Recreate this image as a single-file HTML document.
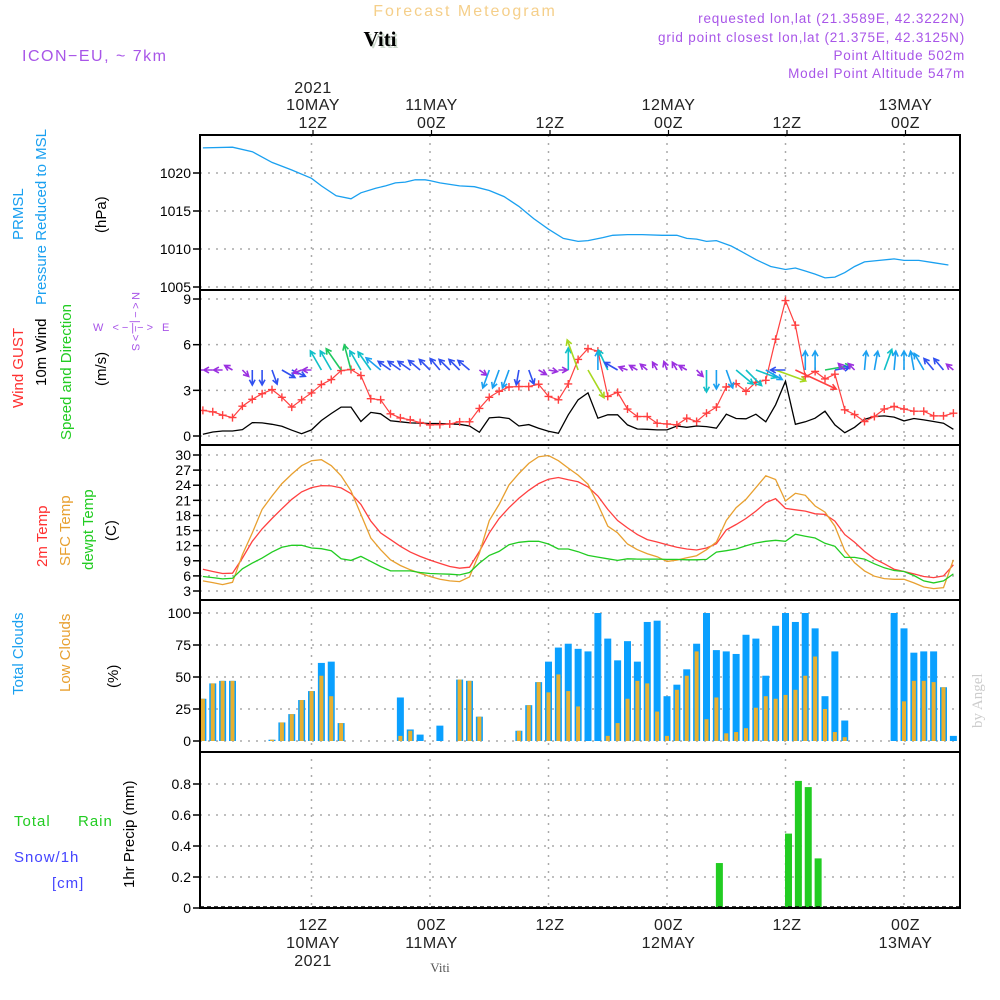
<!DOCTYPE html>
<html><head><meta charset="utf-8">
<style>
html,body{margin:0;padding:0;background:#fff;}
svg{display:block;}
text{font-family:"Liberation Sans",sans-serif;}
</style></head>
<body>
<svg id="chart" width="1000" height="1000" viewBox="0 0 1000 1000" xmlns="http://www.w3.org/2000/svg">
<rect width="1000" height="1000" fill="#fff"/>
<text x="465" y="16" text-anchor="middle" font-size="16" fill="#f5cf8a" letter-spacing="2">Forecast Meteogram</text>
<text x="382" y="48" text-anchor="middle" font-size="21" font-weight="bold" style="font-family:'Liberation Serif',serif" fill="#ccd8cc">Viti</text>
<text x="380" y="46" text-anchor="middle" font-size="21" font-weight="bold" style="font-family:'Liberation Serif',serif" fill="#000">Viti</text>
<text x="22" y="61" font-size="16" fill="#a855e8" letter-spacing="1.5">ICON−EU, ~ 7km</text>
<g font-size="13.5" fill="#a855e8" text-anchor="end" letter-spacing="0.8">
<text x="965" y="23">requested lon,lat (21.3589E, 42.3222N)</text>
<text x="965" y="42">grid point closest lon,lat (21.375E, 42.3125N)</text>
<text x="965" y="60">Point Altitude 502m</text>
<text x="965" y="78">Model Point Altitude 547m</text>
</g>
<g id="top-axis" font-size="16" fill="#222" text-anchor="middle" letter-spacing="0.5"></g>
<g id="bottom-axis" font-size="16" fill="#222" text-anchor="middle" letter-spacing="0.5"></g>
<text x="440" y="972" text-anchor="middle" font-size="13" style="font-family:'Liberation Serif',serif" fill="#555">Viti</text>
<text transform="translate(982,728) rotate(-90)" font-size="15" style="font-family:'Liberation Serif',serif" fill="#ccc">by Angel</text>

<g font-size="15">
<text transform="translate(23,240) rotate(-90)" fill="#1aa0f0">PRMSL</text>
<text transform="translate(46,305) rotate(-90)" fill="#1aa0f0">Pressure Reduced to MSL</text>
<text transform="translate(106,233) rotate(-90)" fill="#000">(hPa)</text>
</g>
<g font-size="15">
<text transform="translate(23,408) rotate(-90)" fill="#ff3030">Wind GUST</text>
<text transform="translate(46,386) rotate(-90)" fill="#000">10m Wind</text>
<text transform="translate(71,440) rotate(-90)" fill="#22cc22">Speed and Direction</text>
<text transform="translate(106,386) rotate(-90)" fill="#000">(m/s)</text>
<text x="93" y="331" font-size="11" fill="#a855e8" letter-spacing="3">W &lt;−|−&gt; E</text>
<text transform="translate(132,292) rotate(90)" font-size="11" fill="#a855e8" letter-spacing="2.5">N&lt;−|−&gt;S</text>
</g>
<g font-size="15">
<text transform="translate(47,567) rotate(-90)" fill="#ff3030">2m Temp</text>
<text transform="translate(70,566) rotate(-90)" fill="#e8a030">SFC Temp</text>
<text transform="translate(93,570) rotate(-90)" fill="#22cc22">dewpt Temp</text>
<text transform="translate(116,541) rotate(-90)" fill="#000">(C)</text>
</g>
<g font-size="15">
<text transform="translate(23,695) rotate(-90)" fill="#1aa0f0">Total Clouds</text>
<text transform="translate(70,692) rotate(-90)" fill="#e8a030">Low Clouds</text>
<text transform="translate(118,688) rotate(-90)" fill="#000">(%)</text>
</g>
<g font-size="15" letter-spacing="1">
<text x="14" y="826" fill="#22cc22">Total</text>
<text x="78" y="826" fill="#22cc22">Rain</text>
<text x="14" y="862" fill="#4444ff">Snow/1h</text>
<text x="52" y="888" fill="#4444ff">[cm]</text>
<text transform="translate(134,888) rotate(-90)" fill="#000" letter-spacing="0">1hr Precip (mm)</text>
</g>
<defs><clipPath id="plotclip"><rect x="200" y="135" width="760" height="773"/></clipPath></defs>
<g id="plot" clip-path="url(#plotclip)"></g>
<g id="frame"></g>
</svg>
<script>
const tickHours = [12,24,36,48,60,72];
const topLine1 = ["2021","","","","",""];
const topLine2 = ["10MAY","11MAY","","12MAY","","13MAY"];
const topLine3 = ["12Z","00Z","12Z","00Z","12Z","00Z"];
const botLine1 = ["12Z","00Z","12Z","00Z","12Z","00Z"];
const botLine2 = ["10MAY","11MAY","","12MAY","","13MAY"];
const botLine3 = ["2021","","","","",""];

const pressHours = [1,4,6,8,10,12,13,14.5,16,17,18.5,19.5,20.5,21.5,22.5,23.5,24,25,27,28.5,30,31.5,33,34.5,36,37.5,39,40,41.5,42.5,44,45.5,47.5,49,50,51,52,53,54.5,55.5,57,58.5,60,61,62,63,64,65,66,67,68,69.5,71,72,73.5,75,76.5];
const pressVals = [1023.3,1023.4,1022.8,1021.4,1020.4,1019.3,1018.3,1017.0,1016.6,1017.4,1018.0,1018.3,1018.7,1018.8,1019.1,1019.1,1019.0,1018.7,1018.3,1018.2,1017.7,1016.9,1015.6,1014.0,1012.6,1011.4,1011.0,1011.1,1011.5,1011.8,1011.9,1011.9,1011.8,1011.8,1011.4,1011.3,1011.0,1011.1,1010.4,1009.7,1008.6,1007.7,1007.3,1007.5,1007.1,1006.7,1006.2,1006.3,1006.9,1007.7,1008.3,1008.5,1008.7,1008.5,1008.5,1008.2,1007.9];

const gustVals = [1.68,1.59,1.37,1.21,1.96,2.41,2.78,3.05,2.54,1.90,2.38,2.83,3.38,3.71,4.30,4.37,3.97,2.45,2.38,1.46,1.19,1.06,0.88,0.73,0.75,0.79,0.93,0.93,1.81,2.54,2.94,3.22,3.25,3.25,3.40,2.60,2.38,3.42,5.03,5.74,5.58,2.60,2.87,1.77,1.28,1.28,0.84,0.79,0.73,1.17,0.95,1.50,1.90,3.22,3.44,2.94,3.53,3.66,6.36,8.90,7.28,3.89,4.24,3.75,4.06,1.72,1.41,0.95,1.28,1.77,1.94,1.77,1.63,1.63,1.32,1.32,1.50];
const windVals = [0.11,0.26,0.33,0.33,0.42,0.88,0.86,0.77,0.64,0.38,0.15,0.40,1.02,1.48,1.90,1.90,0.95,1.55,1.46,1.00,0.93,0.86,0.84,0.82,0.82,0.79,0.77,0.66,0.24,1.19,1.24,1.15,0.66,0.75,0.51,0.31,0.18,1.39,2.38,2.83,1.17,1.39,1.39,0.73,0.46,0.44,0.40,0.40,0.66,0.57,0.66,0.62,0.51,1.43,1.15,1.13,1.43,0.93,2.05,3.60,0.77,0.93,1.17,1.63,0.73,0.22,0.57,1.10,1.28,1.32,1.24,0.99,1.15,1.06,0.95,0.84,0.44];
const windDir = [270,270,270,300,135,180,180,160,120,115,250,270,330,330,325,345,330,325,310,305,305,305,310,315,320,315,315,310,125,200,200,200,190,160,120,100,90,0,340,150,0,335,300,290,300,310,330,340,330,300,135,180,180,160,130,135,110,120,110,270,115,0,0,80,80,315,315,5,10,20,5,0,350,330,320,320,310];
const windCat = [0,0,0,0,0,1,1,1,1,1,0,0,3,3,4,4,3,3,2,1,1,1,1,1,1,1,1,1,0,2,2,2,1,1,0,0,0,3,5,5,2,3,1,0,0,0,0,0,0,0,0,3,2,2,3,3,3,2,5,1,6,2,2,4,1,0,0,2,2,3,2,2,2,2,1,1,0];

const t2mVals = [7.33,6.87,6.47,6.53,9.53,12.87,15.33,17.4,19.33,21.2,22.67,23.53,23.93,23.87,23.47,22.33,20.2,16.87,14.53,13.2,11.87,10.73,9.87,9.13,8.47,7.87,7.53,7.73,10.87,14.53,17.4,19.53,21.4,23.0,24.33,25.2,25.53,25.07,24.67,23.67,21.87,19.2,17.0,15.53,14.2,13.2,12.73,12.2,11.67,11.33,11.13,11.53,12.4,15.13,16.2,17.4,18.87,20.53,21.33,19.4,19.13,18.87,18.33,18.2,16.87,14.2,12.67,10.87,9.4,8.4,7.33,6.87,6.4,5.87,5.67,6.0,8.2];
const sfcVals = [5.0,4.67,4.27,4.73,10.2,14.53,19.2,21.87,24.33,26.2,27.87,28.87,29.07,27.87,25.87,22.87,18.2,13.53,11.2,9.2,8.07,7.2,6.53,5.87,5.33,5.0,4.87,5.8,10.53,17.0,20.2,24.07,26.33,28.33,29.67,29.9,28.87,27.4,26.0,24.2,20.2,15.87,14.53,12.33,11.2,10.4,9.8,8.87,9.13,9.6,10.0,11.2,12.73,17.0,19.53,21.2,23.53,25.87,25.13,20.87,22.4,22.0,19.87,18.67,15.87,11.0,8.6,7.0,5.93,5.47,5.33,5.33,4.6,3.8,3.47,3.67,9.2];
const dewVals = [5.87,5.67,5.4,5.53,7.4,8.53,9.53,10.73,11.67,12.07,12.07,11.53,11.4,11.0,9.4,9.07,9.87,8.87,7.87,7.0,7.0,7.0,6.67,6.47,6.4,6.33,6.2,6.67,8.53,10.07,10.87,12.2,12.67,12.87,12.87,12.33,11.33,11.33,10.8,10.07,9.73,9.4,9.07,9.4,9.33,9.33,9.33,9.27,9.27,9.2,9.2,9.27,10.73,11.0,11.33,12.0,12.53,12.87,13.07,12.87,14.27,13.87,13.53,12.47,11.87,9.67,9.67,9.33,8.4,7.6,7.07,6.87,6.07,5.0,4.6,5.0,6.4];

const totalCloud = [33,45,47,47,0,0,0,1,14.5,21,32,39,61,62,14,0,0,0,0,0,34,9,5,0,12,0,48,47,19,0,0,0,8,28,46,62,73,76,72,70,100,80,63,78,62,93,94,35,44,56,76,100,71,70,68,83,80,51,90,100,93,100,88,35,70,16,0,0,0,0,100,88,69,70,70,42,4];
const lowCloud = [33,45,47,47,0,0,0,1,14.5,21,32,39,51,35,14,0,0,0,0,0,4,8,0,0,0,0,48,47,19,0,0,0,8,28,46,38,52,39,27,0,0,4,14,33,47,45,23,4,40,51,70,17,34,6,7,10,26,35,33,36,40,51,66,25,7,3,0,0,0,0,0,31,47,47,46,42,0];

const precipHours = [53,60,61,62,63];
const precipVals = [0.29,0.48,0.82,0.78,0.32];

const pressTicks = [1005,1010,1015,1020];
const windTicks = [0,3,6,9];
const tempTicks = [3,6,9,12,15,18,21,24,27,30];
const cloudTicks = [0,25,50,75,100];
const precipTicks = [0,0.2,0.4,0.6,0.8];
const precipTickLabels = ["0","0.2","0.4","0.6","0.8"];

const X0 = 200, X1 = 960;
const x = h => 311.5 + (h - 12) * 9.875;
const yP = p => 287 - (p - 1005) * 7.6;
const yW = v => 436 - v * 15.22;
const yT = t => 591 - (t - 3) * 5.037;
const yC = c => 741 - c * 1.28;
const yR = r => 908 - r * 155;
const panels = [[135,290],[290,445],[445,600],[600,752],[752,908]];

const NS = "http://www.w3.org/2000/svg";
const plotG = document.getElementById('plot');
const frameG = document.getElementById('frame');
function mk(tag, attrs, parent){
  const e = document.createElementNS(NS, tag);
  for (const k in attrs) e.setAttribute(k, attrs[k]);
  (parent || plotG).appendChild(e);
  return e;
}
const hours = [];
for (let i = 0; i < totalCloud.length; i++) hours.push(i + 1);

function hgrid(vals, yf, name){
  vals.forEach(v => {
    const l = mk('line', {x1:X0, x2:X1, y1:yf(v), y2:yf(v), stroke:'#aaa', 'stroke-width':1.5, 'stroke-dasharray':'2,6'});
    
    
  });
}
hgrid(pressTicks, yP, 'pressure-gridline');
hgrid(windTicks, yW, 'wind-gridline');
hgrid(tempTicks, yT, 'temp-gridline');
hgrid(cloudTicks, yC, 'cloud-gridline');
hgrid(precipTicks, yR, 'precip-gridline');
tickHours.forEach(h => {
  const l = mk('line', {x1:x(h), x2:x(h), y1:135, y2:908, stroke:'#aaa', 'stroke-width':1.5, 'stroke-dasharray':'2,6'});
  
  
});

function polyline(xs, ys, color, name, w){
  const pts = xs.map((v,i) => x(v).toFixed(1) + ',' + ys[i].toFixed(1)).join(' ');
  const p = mk('polyline', {points:pts, fill:'none', stroke:color, 'stroke-width':w || 1.3});
  
  
  return p;
}

polyline(pressHours, pressVals.map(yP), '#1aa0f0', 'pressure-line');

hours.forEach((h,i) => {
  if (totalCloud[i] > 0) {
    const b = mk('rect', {x:x(h)-3.5, y:yC(totalCloud[i]), width:7, height:yC(0)-yC(totalCloud[i]), fill:'#0aa0ff'});
    
    
  }
  if (lowCloud[i] > 0) {
    const b = mk('rect', {x:x(h)-2, y:yC(lowCloud[i]), width:4, height:yC(0)-yC(lowCloud[i]), fill:'#e8b030'});
    
    
  }
});

precipHours.forEach((h,i) => {
  const b = mk('rect', {x:x(h)-0.5, y:yR(precipVals[i]), width:7, height:yR(0)-yR(precipVals[i]), fill:'#22cc22'});
  
  
});
const zl = mk('line', {x1:X0, x2:X1, y1:907, y2:907, stroke:'#000', 'stroke-width':1.5, 'stroke-dasharray':'4,3'});



polyline(hours, t2mVals.map(yT), '#ff4040', 'temp-2m-line');
polyline(hours, sfcVals.map(yT), '#e8a030', 'temp-sfc-line');
polyline(hours, dewVals.map(yT), '#22cc22', 'dewpoint-line');

polyline(hours, windVals.map(yW), '#000', 'wind-10m-line');
polyline(hours, gustVals.map(yW), '#ff4040', 'wind-gust-line', 1.2);
hours.forEach((h,i) => {
  const cx = x(h), cy = yW(gustVals[i]);
  const g = mk('path', {d:`M${cx-4},${cy}H${cx+4}M${cx},${cy-4}V${cy+4}`, stroke:'#ff4040', 'stroke-width':1.4});
  
  
});
const catColor = ['#9b30e0','#3050f0','#1aa0f0','#10c0c8','#20c860','#a8d820','#ff4040'];
const catLen = [9,15,19,22,26,32,45];
hours.forEach((h,i) => {
  const a = windDir[i] * Math.PI / 180, L = catLen[windCat[i]];
  const x1 = x(h), y1 = 370;
  const x2 = x1 + Math.sin(a) * L, y2 = y1 - Math.cos(a) * L;
  const hl = 6;
  const a1 = a + Math.PI - 0.5, a2 = a + Math.PI + 0.5;
  const d = `M${x1.toFixed(1)},${y1}L${x2.toFixed(1)},${y2.toFixed(1)}M${(x2+Math.sin(a1)*hl).toFixed(1)},${(y2-Math.cos(a1)*hl).toFixed(1)}L${x2.toFixed(1)},${y2.toFixed(1)}L${(x2+Math.sin(a2)*hl).toFixed(1)},${(y2-Math.cos(a2)*hl).toFixed(1)}`;
  const p = mk('path', {d:d, fill:'none', stroke:catColor[windCat[i]], 'stroke-width':1.6});
  
  
});

panels.forEach(([t,b]) => {
  const r = mk('rect', {x:X0, y:t, width:X1-X0, height:b-t, fill:'none', stroke:'#000', 'stroke-width':2}, frameG);
  
  
});

function yticks(vals, labels, yf, name){
  vals.forEach((v,i) => {
    const l = mk('line', {x1:193, x2:200, y1:yf(v), y2:yf(v), stroke:'#000', 'stroke-width':1.5}, frameG);
    
    
    const t = mk('text', {x:191, y:yf(v)+5, 'text-anchor':'end', 'font-size':14, fill:'#000'}, frameG);
    t.textContent = labels[i];
    
    
  });
}
yticks(pressTicks, pressTicks.map(String), yP, 'pressure');
yticks(windTicks, windTicks.map(String), yW, 'wind');
yticks(tempTicks, tempTicks.map(String), yT, 'temp');
yticks(cloudTicks, cloudTicks.map(String), yC, 'cloud');
yticks(precipTicks, precipTickLabels, yR, 'precip');

const topAxis = document.getElementById('top-axis');
const botAxis = document.getElementById('bottom-axis');
tickHours.forEach((h,i) => {
  const xx = x(h) + 1.5;
  const tk = mk('line', {x1:xx, x2:xx, y1:130, y2:136, stroke:'#000', 'stroke-width':1.2}, frameG);
  
  
  [[topLine1[i],93],[topLine2[i],110],[topLine3[i],128]].forEach(([s,y]) => {
    if (!s) return;
    const t = mk('text', {x:xx, y:y}, topAxis);
    t.textContent = s;
    
    
  });
  [[botLine1[i],930],[botLine2[i],948],[botLine3[i],966]].forEach(([s,y]) => {
    if (!s) return;
    const t = mk('text', {x:xx, y:y}, botAxis);
    t.textContent = s;
    
    
  });
});
</script>
</body></html>
